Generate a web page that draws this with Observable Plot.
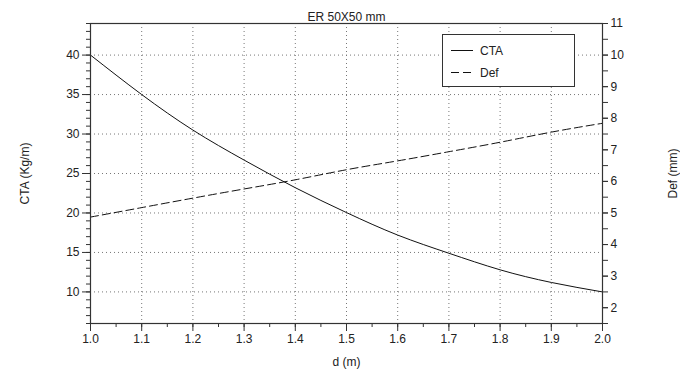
<!DOCTYPE html>
<html>
<head>
<meta charset="utf-8">
<script src="https://cdn.jsdelivr.net/npm/d3@7"></script>
<script src="https://cdn.jsdelivr.net/npm/@observablehq/plot@0.6"></script>
<style>
  body { margin: 0; background: #fff; font-family: "Liberation Sans", Arial, sans-serif; }
  #wrap { position: relative; width: 680px; height: 376px; }
  #legend { position: absolute; left: 442px; top: 34px; width: 133px; height: 53px; box-sizing: border-box;
            border: 1px solid #333; background: #fff; font-size: 12px; color: #222; }
</style>
</head>
<body>
<div id="wrap"><div id="chart"></div><div id="legend"></div></div>
<script>
const title = "ER 50X50 mm";
const d = [1.0, 1.1, 1.2, 1.3, 1.4, 1.5, 1.6, 1.7, 1.8, 1.9, 2.0];
const cta = [40.0, 35.0, 30.5, 26.7, 23.2, 20.05, 17.2, 14.9, 12.8, 11.2, 10.0];
const def = [4.87, 5.17, 5.47, 5.76, 6.05, 6.37, 6.65, 6.94, 7.24, 7.56, 7.84];
const xTicks = [1.0, 1.1, 1.2, 1.3, 1.4, 1.5, 1.6, 1.7, 1.8, 1.9, 2.0];
const leftTicks = [10, 15, 20, 25, 30, 35, 40];
const rightTicks = [2, 3, 4, 5, 6, 7, 8, 9, 10, 11];
const leftDomain = [6, 44];
const ratio = 4; // right axis value * 4 = left axis value
const labels = { x: "d (m)", left: "CTA (Kg/m)", right: "Def (mm)" };

const rows = d.map((v, i) => ({ d: v, cta: cta[i], def: def[i] * ratio }));
const xMinor = d3.range(0, 21).map(i => 1 + i * 0.05);
const leftMinor = d3.range(leftDomain[0], leftDomain[1] + 1, 1);
const rightMinor = d3.range(1.5, 11.01, 0.5).map(v => v * ratio);
const axisColor = "#333";

const plot = Plot.plot({
  width: 680, height: 376,
  marginLeft: 90, marginRight: 78, marginTop: 23, marginBottom: 53,
  style: { fontFamily: "Liberation Sans, Arial, sans-serif", fontSize: "12px", color: "#222", background: "#fff" },
  x: { domain: [1, 2] },
  y: { domain: leftDomain },
  marks: [
    Plot.gridX(xTicks.slice(1, -1), { stroke: "#777", strokeOpacity: 1, strokeDasharray: "1,3" }),
    Plot.gridY(leftTicks, { stroke: "#777", strokeOpacity: 1, strokeDasharray: "1,3" }),
    Plot.axisX(xMinor, { tickSize: 4, text: null, label: null, stroke: axisColor }),
    Plot.axisX(xTicks, { tickSize: 8, tickPadding: 3, tickFormat: d3.format(".1f"), stroke: axisColor, label: labels.x, labelAnchor: "center", labelArrow: "none", labelOffset: 42 }),
    Plot.axisY(leftMinor, { anchor: "left", tickSize: 4, text: null, label: null, stroke: axisColor }),
    Plot.axisY(leftTicks, { anchor: "left", tickSize: 8, tickPadding: 3, stroke: axisColor, label: labels.left, labelAnchor: "center", labelArrow: "none", labelOffset: 70 }),
    Plot.axisY(rightMinor, { anchor: "right", tickSize: 5, text: null, label: null, stroke: axisColor }),
    Plot.axisY(rightTicks.map(v => v * ratio), { anchor: "right", tickSize: 5, tickPadding: 3, tickFormat: v => String(v / ratio), stroke: axisColor, label: labels.right, labelAnchor: "center", labelArrow: "none", labelOffset: 74 }),
    Plot.line(rows, { x: "d", y: "cta", stroke: "#111", strokeWidth: 1, curve: "natural" }),
    Plot.line(rows, { x: "d", y: "def", stroke: "#111", strokeWidth: 1, strokeDasharray: "8,4", curve: "natural" }),
    Plot.frame({ stroke: axisColor, strokeWidth: 1.2 }),
    Plot.text([title], { frameAnchor: "top", dy: -11, fontSize: 12, fill: "#222" })
  ]
});
document.getElementById("chart").appendChild(plot);

// legend
const leg = d3.select("#legend").append("svg").attr("width", 131).attr("height", 51)
  .style("font-family", "Liberation Sans, Arial, sans-serif").style("font-size", "12px");
const entries = [{ name: "CTA", dash: null }, { name: "Def", dash: "8,4" }];
entries.forEach((e, i) => {
  const y = 15.5 + i * 22;
  leg.append("line").attr("x1", 8).attr("x2", 30).attr("y1", y).attr("y2", y)
    .attr("stroke", "#111").attr("stroke-dasharray", e.dash);
  leg.append("text").attr("x", 37).attr("y", y).attr("dy", "0.35em").attr("fill", "#222").text(e.name);
});
</script>
</body>
</html>
